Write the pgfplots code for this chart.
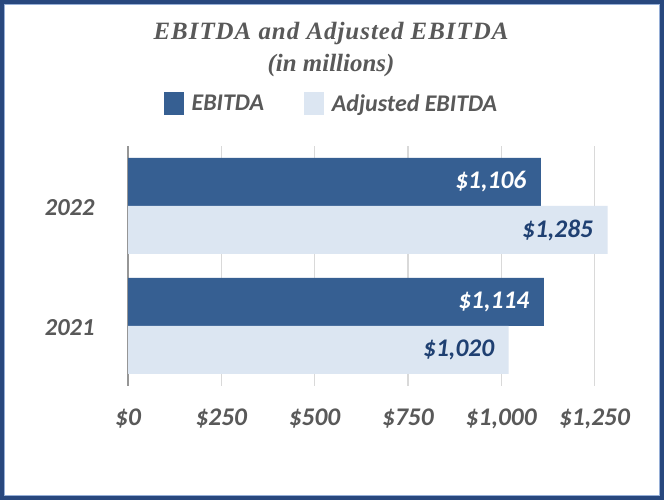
\documentclass[border=0pt]{standalone}
\usepackage{pgfplots}
\pgfplotsset{compat=1.18}
\usepackage{fontspec}
\setmainfont{Carlito}
\newfontfamily\titlefont[LetterSpace=4]{Liberation Serif}
\newfontfamily\titlefontB{Liberation Serif}
\definecolor{barDark}{RGB}{54,95,146}
\definecolor{barLight}{RGB}{220,230,242}
\definecolor{lblDark}{RGB}{31,64,114}
\definecolor{txtGray}{RGB}{89,89,89}
\definecolor{gridGray}{RGB}{217,217,217}
\definecolor{axGray}{RGB}{150,150,150}
\definecolor{frameBlue}{RGB}{40,72,126}
\definecolor{frameLight}{RGB}{150,175,215}
\begin{document}
\begin{tikzpicture}[x=1bp,y=1bp]
\useasboundingbox (0,0) rectangle (664,500);
\fill[white] (0,0) rectangle (664,500);
\draw[line width=4bp, frameBlue] (2,2) rectangle (662,498);
\draw[line width=0.8bp, frameLight] (4.4,4.4) rectangle (659.6,495.6);
\node[anchor=base, text=txtGray, font={\titlefont\bfseries\itshape\fontsize{25}{30}\selectfont}] at (331,460) {EBITDA and Adjusted EBITDA};
\node[anchor=base, text=txtGray, font={\titlefontB\bfseries\itshape\fontsize{25}{30}\selectfont}] at (331,428) {(in millions)};
\begin{axis}[
  at={(128bp,114bp)}, anchor=south west,
  width=466.5bp, height=240bp, scale only axis,
  xbar, bar width=0.4,
  xmin=0, xmax=1250, ymin=-0.5, ymax=1.5,
  xtick={0,250,...,1250},
  xticklabels={\$0,\$250,\$500,\$750,{\$1,000},{\$1,250}},
  ytick={0,1}, yticklabels={2021,2022},
  xmajorgrids, grid style={draw=gridGray, line width=1.2bp},
  axis line style={draw=none},
  major tick length=0pt,
  tick label style={text=txtGray},
  xticklabel style={anchor=base, yshift=-40bp, font={\bfseries\itshape\fontsize{25.5}{30}\selectfont}},
  yticklabel style={anchor=base east, xshift=-30bp, yshift=-10bp, font={\bfseries\itshape\fontsize{24.5}{29}\selectfont}},
  extra x ticks={0}, extra x tick labels={},
  extra x tick style={grid style={draw=axGray, line width=1.5bp}},
  nodes near coords, point meta=explicit symbolic,
  nodes near coords style={anchor=east, xshift=-11bp, font={\bfseries\itshape\fontsize{25.5}{30}\selectfont}},
  legend style={draw=none, fill=none, at={(0.436,1.175)}, anchor=center, legend columns=2,
    font={\bfseries\itshape\fontsize{24}{28}\selectfont}, text=txtGray,
    /tikz/every even column/.append style={column sep=38bp}},
  legend cell align=left,
  clip=false,
]
\addplot[fill=barDark, draw=none, bar shift=0.2,
  every node near coord/.append style={text=white},
  legend image code/.code={\fill[barDark] (0bp,-11.5bp) rectangle (20bp,11.5bp); \path (26bp,0bp);}]
  coordinates {(1114,0) [\$1{,}114] (1106,1) [\$1{,}106]};
\addlegendentry{EBITDA}
\addplot[fill=barLight, draw=none, bar shift=-0.2,
  every node near coord/.append style={text=lblDark},
  legend image code/.code={\fill[barLight] (0bp,-11.5bp) rectangle (20bp,11.5bp); \path (26bp,0bp);}]
  coordinates {(1020,0) [\$1{,}020] (1285,1) [\$1{,}285]};
\addlegendentry{Adjusted EBITDA}
\end{axis}
\end{tikzpicture}
\end{document}
